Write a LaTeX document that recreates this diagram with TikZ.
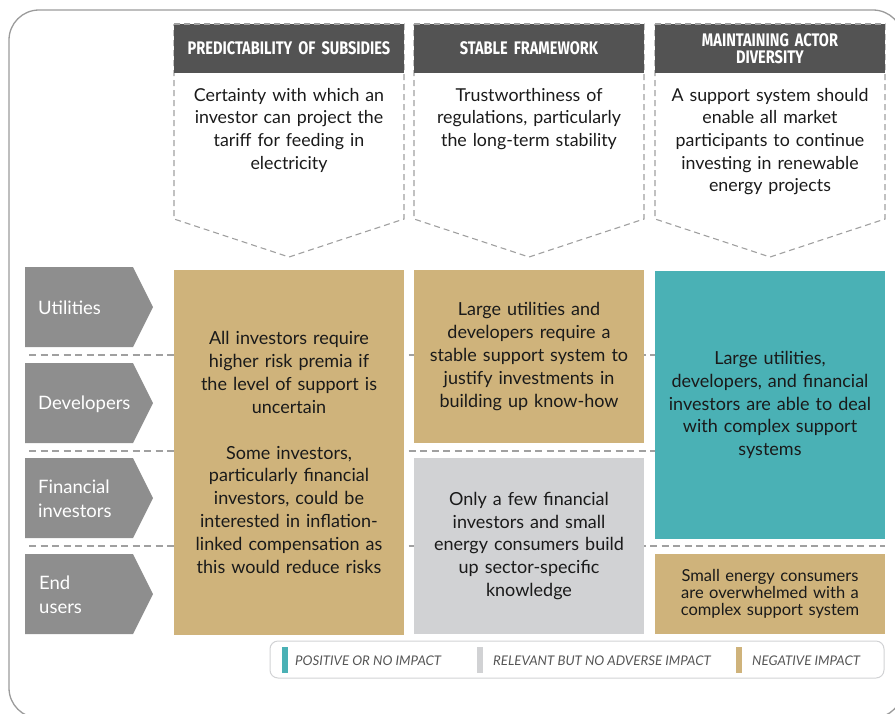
\documentclass[tikz,border=0pt]{standalone}
\usepackage{fontspec}
\setmainfont{Lato}
\newfontfamily\hdfont{Fira Sans}[FakeStretch=0.8]
\definecolor{tan}{HTML}{CFB37B}
\definecolor{teal}{HTML}{4AB1B5}
\definecolor{lgray}{HTML}{D1D2D4}
\definecolor{dark}{HTML}{535353}
\definecolor{chev}{HTML}{8E8E8E}
\definecolor{dashc}{HTML}{A0A0A0}
\definecolor{framec}{HTML}{9B9B9B}
\definecolor{txt}{HTML}{1A1A1A}
\definecolor{legtxt}{HTML}{555555}
\tikzset{
  cell/.style={inner sep=0pt, minimum width=230pt, text width=226pt, align=center,
    font=\fontsize{18}{22.9}\selectfont, text=txt},
  headbar/.style={fill=dark, inner sep=0pt, minimum width=230pt, minimum height=49pt,
    text width=226pt, align=center, text=white, font=\hdfont\bfseries\fontsize{18.2}{17.6}\selectfont},
  desc/.style={anchor=north, inner sep=0pt, text width=226pt, align=center,
    font=\fontsize{17.8}{22.6}\selectfont, text=txt},
  headout/.style={draw=dashc, line width=1.1pt, dash pattern=on 6pt off 4pt},
  rowdash/.style={draw=dashc, line width=1.3pt, dash pattern=on 7pt off 4.5pt},
  rowlab/.style={anchor=west, inner sep=0pt, align=left, text=white,
    font=\fontsize{18.5}{23.5}\selectfont},
  legtext/.style={anchor=west, inner sep=0pt, text=legtxt, font=\itshape\fontsize{13.3}{14}\selectfont},
  legbar/.style={inner sep=0pt, minimum width=6pt, minimum height=26pt}
}
\begin{document}
\begin{tikzpicture}[x=1pt,y=-1pt]
\useasboundingbox (0,0) rectangle (895,713);
\begin{scope}
  \clip (0,0) rectangle (895,713);
  \draw[framec, line width=1.3pt, rounded corners=30pt] (9,10) rectangle (903,718);
\end{scope}

% column headers
\foreach \x in {174,414,655}{
  \draw[headout] (\x,24) -- (\x+230,24) -- (\x+230,219) -- (\x+115,257) -- (\x,219) -- cycle;
}
\node[headbar] (h1) at (289,48.5) {PREDICTABILITY OF SUBSIDIES};
\node[headbar] (h2) at (529,48.5) {STABLE FRAMEWORK};
\node[headbar] (h3) at (770,48.5) {MAINTAINING ACTOR\\DIVERSITY};
\foreach \x in {174,414,655}{
  \draw[headout] (\x,24) -- (\x+230,24);
}
\node[desc] (d1) at (289,88) {Certainty with which an\\investor can project the\\tariff for feeding in\\electricity};
\node[desc] (d2) at (529,88) {Trustworthiness of\\regulations, particularly\\the long-term stability};
\node[desc] (d3) at (770,88) {A support system should\\enable all market\\participants to continue\\investing in renewable\\energy projects};

% dashed row separators
\draw[rowdash] (29,355) -- (885,355);
\draw[rowdash] (29,451) -- (885,451);
\draw[rowdash] (29,546) -- (885,546);

% row labels
\foreach \y in {267,363,458,554}{
  \fill[chev] (25,\y) -- (133,\y) -- (153,\y+40) -- (133,\y+80) -- (25,\y+80) -- cycle;
}
\node[rowlab] (r1) at (38,308) {Utilities};
\node[rowlab] (r2) at (38,404) {Developers};
\node[rowlab] (r3) at (38,499) {Financial\\investors};
\node[rowlab] (r4) at (39,595) {End\\users};

% cells
\node[cell, fill=tan, minimum height=365pt] (c11) at (289,452.5)
  {All investors require\\higher risk premia if\\the level of support is\\uncertain\\[22.9pt]Some investors,\\particularly financial\\investors, could be\\interested in inflation-\\linked compensation as\\this would reduce risks};
\node[cell, fill=tan, minimum height=173pt] (c21) at (529,356.5)
  {Large utilities and\\developers require a\\stable support system to\\justify investments in\\building up know-how};
\node[cell, fill=lgray, minimum height=176pt] (c22) at (529,546)
  {Only a few financial\\investors and small\\energy consumers build\\up sector-specific\\knowledge};
\node[cell, fill=teal, minimum height=268pt] (c31) at (770,405)
  {Large utilities,\\developers, and financial\\investors are able to deal\\with complex support\\systems};
\node[cell, fill=tan, minimum height=80pt, font=\fontsize{16.5}{16.8}\selectfont] (c32) at (770,594)
  {Small energy consumers\\are overwhelmed with a\\complex support system};

% legend
\node[draw=lgray, line width=1pt, rounded corners=8pt, minimum width=614pt, minimum height=37pt, inner sep=0pt] (leg) at (577,659.5) {};
\node[legbar, fill=teal] (b1) at (285,660) {};
\node[legbar, fill=lgray] (b2) at (480,660) {};
\node[legbar, fill=tan] (b3) at (739,660) {};
\node[legtext] (t1) at (295,661) {POSITIVE OR NO IMPACT};
\node[legtext] (t2) at (493,661) {RELEVANT BUT NO ADVERSE IMPACT};
\node[legtext] (t3) at (752,661) {NEGATIVE IMPACT};
\end{tikzpicture}
\end{document}
